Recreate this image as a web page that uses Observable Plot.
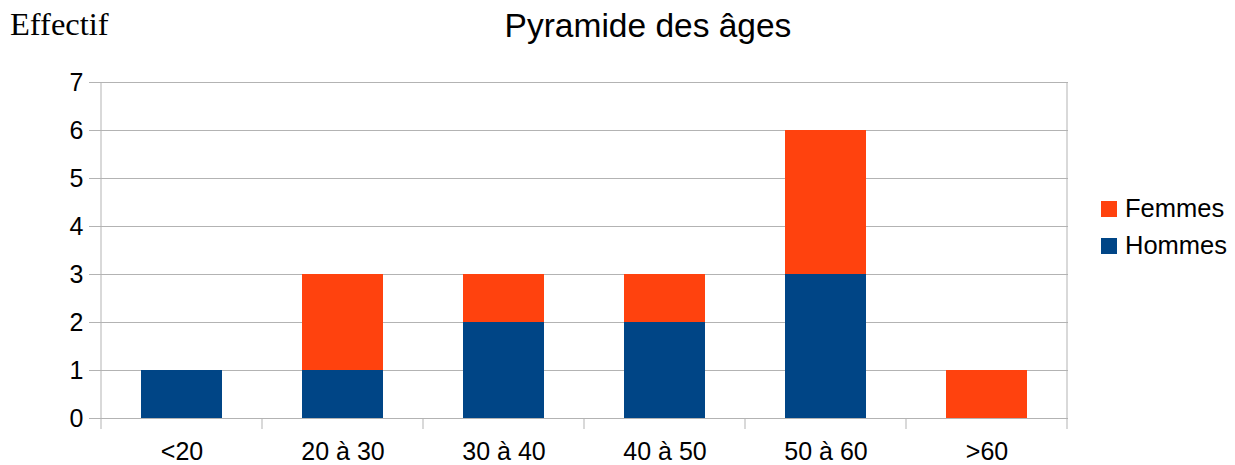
<!DOCTYPE html>
<html>
<head>
<meta charset="utf-8">
<script src="https://cdn.jsdelivr.net/npm/d3@7"></script>
<script src="https://cdn.jsdelivr.net/npm/@observablehq/plot@0.6"></script>
<style>
  body { margin: 0; background: #fff; }
  #wrap { position: relative; width: 1235px; height: 465px; font-family: "Liberation Sans", Arial, sans-serif; }
  #wrap svg { position: absolute; left: 0; top: 0; }
  .ov { position: absolute; white-space: nowrap; line-height: 1; }
</style>
</head>
<body>
<div id="wrap"></div>
<script>
const categories = ["<20", "20 à 30", "30 à 40", "40 à 50", "50 à 60", ">60"];
const hommes = [1, 1, 2, 2, 3, 0];
const femmes = [0, 2, 1, 1, 3, 1];
const seriesNames = ["Hommes", "Femmes"];
const seriesColors = ["#004586", "#ff420e"];
const yTicks = [0, 1, 2, 3, 4, 5, 6, 7];
const titleText = "Pyramide des âges";
const yTitleText = "Effectif";
const legendOrder = ["Femmes", "Hommes"];

const rows = [];
categories.forEach((c, i) => {
  rows.push({cat: c, serie: "Hommes", v: hommes[i]});
  rows.push({cat: c, serie: "Femmes", v: femmes[i]});
});

const W = 1235, H = 465;
const mL = 100, mR = 167, mT = 82, mB = 47;
const grid = "#b3b3b3";

const chart = Plot.plot({
  width: W, height: H,
  marginLeft: mL, marginRight: mR, marginTop: mT, marginBottom: mB,
  style: {fontFamily: "Liberation Sans, Arial, sans-serif", fontSize: "25px", color: "#000", background: "#fff"},
  x: {domain: categories, paddingInner: 0.5, paddingOuter: 0.25, label: null},
  y: {domain: [0, 7], label: null},
  color: {domain: seriesNames, range: seriesColors},
  marks: [
    Plot.ruleY(yTicks, {y: d => d, stroke: grid, strokeWidth: 1, insetLeft: -11}),
    Plot.barY(rows, {x: "cat", y: "v", fill: "serie", order: seriesNames}),
    Plot.axisY({ticks: yTicks, tickSize: 0, tickPadding: 17, fontSize: 25, label: null, tickFormat: d => String(d)}),
    Plot.axisX({tickSize: 0, tickPadding: 24, fontSize: 25, label: null})
  ]
});

const wrap = document.getElementById("wrap");
wrap.appendChild(chart);

// Band-boundary tick marks and frame sides, positioned via the x scale
const xs = chart.scale("x");
const step = xs.step, bw = xs.bandwidth;
const gap = (step - bw) / 2;
const bounds = categories.map(c => xs.apply(c) - gap);
bounds.push(xs.apply(categories[categories.length - 1]) + bw + gap);
const ys = chart.scale("y");
const y0 = ys.apply(0), y7 = ys.apply(7);
const svg = d3.select(chart);
const g = svg.append("g").attr("stroke", grid).attr("stroke-width", 1);
bounds.forEach((b, i) => {
  const top = (i === 0 || i === bounds.length - 1) ? y7 : y0;
  g.append("line").attr("x1", b).attr("x2", b).attr("y1", top).attr("y2", y0 + 11);
});

function ov(text, style) {
  const d = document.createElement("div");
  d.className = "ov";
  d.textContent = text;
  Object.assign(d.style, style);
  wrap.appendChild(d);
  return d;
}
ov(yTitleText, {left: "10px", top: "8px", fontFamily: "'Liberation Serif', 'Times New Roman', serif", fontSize: "32.5px"});
const t = ov(titleText, {left: "0px", top: "9px", fontSize: "33.5px"});
const tw = t.getBoundingClientRect().width;
t.style.left = (648 - tw / 2) + "px";

legendOrder.forEach((name, i) => {
  const yc = 209 + i * 37;
  const sq = document.createElement("div");
  Object.assign(sq.style, {position: "absolute", left: "1101px", top: (yc - 8) + "px", width: "16px", height: "16px", background: seriesColors[seriesNames.indexOf(name)]});
  wrap.appendChild(sq);
  ov(name, {left: "1125px", top: (yc - 13) + "px", fontSize: "25.5px"});
});
</script>
</body>
</html>
